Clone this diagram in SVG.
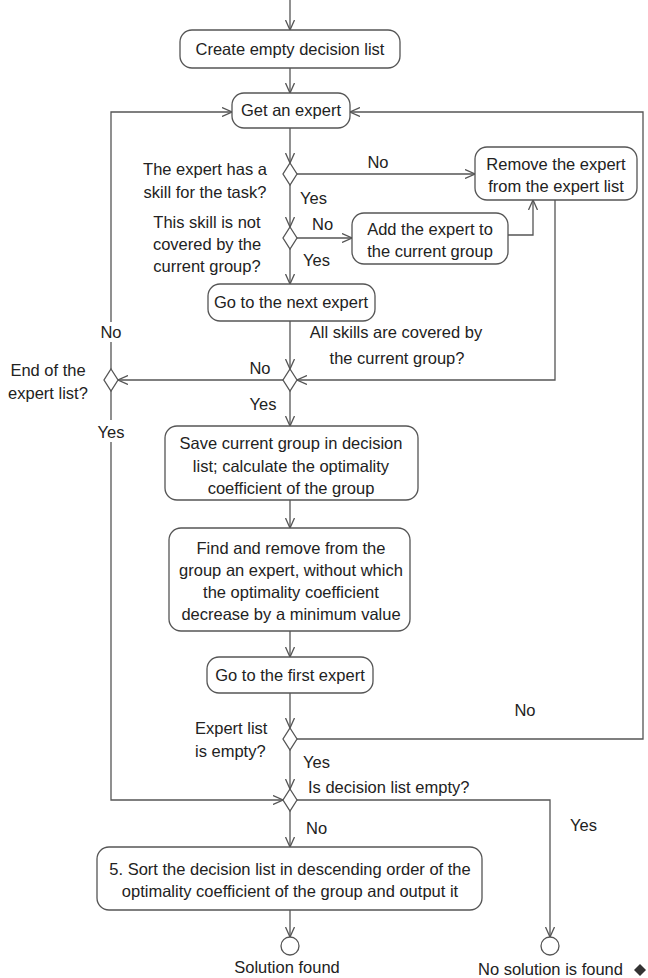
<svg xmlns="http://www.w3.org/2000/svg" width="648" height="978" viewBox="0 0 648 978">
<defs>
<style>
.box{fill:#fff;stroke:#555;stroke-width:1.3}
.dia{fill:#fff;stroke:#555;stroke-width:1.3}
.c{fill:none;stroke:#555;stroke-width:1.3}
text{font-family:"Liberation Sans",Arial,sans-serif;font-size:16.5px;fill:#222}
.m{text-anchor:middle}
.bg{fill:#fff}
</style>
<marker id="arr" viewBox="0 0 10 10" refX="10" refY="5" markerWidth="10" markerHeight="10" orient="auto" markerUnits="userSpaceOnUse">
<path d="M0,0.5 L10,5 L0,9.5" fill="none" stroke="#555" stroke-width="1.3"/>
</marker>
</defs>
<rect width="648" height="978" fill="#fff"/>
<g id="connectors">
<path class="c" d="M290,0 V30" marker-end="url(#arr)"/>
<path class="c" d="M290,68 V93" marker-end="url(#arr)"/>
<path class="c" d="M290,128 V163" marker-end="url(#arr)"/>
<path class="c" d="M297,174 H475" marker-end="url(#arr)"/>
<path class="c" d="M290,185 V227" marker-end="url(#arr)"/>
<path class="c" d="M297,238 H352" marker-end="url(#arr)"/>
<path class="c" d="M508,235 H533 V200" marker-end="url(#arr)"/>
<path class="c" d="M290,249 V284" marker-end="url(#arr)"/>
<path class="c" d="M555,200 V380 H297" marker-end="url(#arr)"/>
<path class="c" d="M290,321 V369" marker-end="url(#arr)"/>
<path class="c" d="M283,380 H118" marker-end="url(#arr)"/>
<path class="c" d="M111,369 V112 H232" marker-end="url(#arr)"/>
<path class="c" d="M290,391 V426" marker-end="url(#arr)"/>
<path class="c" d="M111,391 V800 H283" marker-end="url(#arr)"/>
<path class="c" d="M290,500 V528" marker-end="url(#arr)"/>
<path class="c" d="M290,631 V657" marker-end="url(#arr)"/>
<path class="c" d="M290,693 V728" marker-end="url(#arr)"/>
<path class="c" d="M297,739 H643 V112 H350" marker-end="url(#arr)"/>
<path class="c" d="M290,750 V789" marker-end="url(#arr)"/>
<path class="c" d="M297,800 H550 V937" marker-end="url(#arr)"/>
<path class="c" d="M290,811 V847" marker-end="url(#arr)"/>
<path class="c" d="M290,910 V937" marker-end="url(#arr)"/>
</g>
<g id="create">
<rect class="box" x="180" y="30" width="220" height="38" rx="12"/>
<text class="m" x="290" y="55">Create empty decision list</text>
</g>
<g id="get">
<rect class="box" x="232" y="93" width="118" height="35" rx="12"/>
<text class="m" x="291" y="116">Get an expert</text>
</g>
<g id="d1">
<polygon class="dia" points="290,163 297,174 290,185 283,174"/>
<text class="m" x="205" y="175">The expert has a</text>
<text class="m" x="205" y="198">skill for the task?</text>
<text class="m" x="378" y="168">No</text>
<text x="300" y="204">Yes</text>
</g>
<g id="remove">
<rect class="box" x="475" y="147" width="162" height="53" rx="12"/>
<text class="m" x="556" y="170">Remove the expert</text>
<text class="m" x="556" y="192">from the expert list</text>
</g>
<g id="d2">
<polygon class="dia" points="290,227 297,238 290,249 283,238"/>
<text class="m" x="207" y="228">This skill is not</text>
<text class="m" x="207" y="250">covered by the</text>
<text class="m" x="207" y="272">current group?</text>
<text x="312" y="230">No</text>
<text x="303" y="266">Yes</text>
</g>
<g id="add">
<rect class="box" x="352" y="213" width="156" height="51" rx="12"/>
<text class="m" x="430" y="235">Add the expert to</text>
<text class="m" x="430" y="257">the current group</text>
</g>
<g id="next">
<rect class="box" x="208" y="284" width="167" height="37" rx="12"/>
<text class="m" x="291" y="308">Go to the next expert</text>
</g>
<g id="d3">
<polygon class="dia" points="290,369 297,380 290,391 283,380"/>
<text class="m" x="396" y="338">All skills are covered by</text>
<text class="m" x="397" y="364">the current group?</text>
<text class="m" x="260" y="374">No</text>
<text class="m" x="263" y="410">Yes</text>
</g>
<g id="d4">
<polygon class="dia" points="111,369 118,380 111,391 104,380"/>
<text class="m" x="48" y="376">End of the</text>
<text class="m" x="48" y="399">expert list?</text>
<rect class="bg" x="98" y="322" width="26" height="20"/>
<text class="m" x="111" y="338">No</text>
<rect class="bg" x="96" y="420" width="30" height="22"/>
<text class="m" x="111" y="438">Yes</text>
</g>
<g id="save">
<rect class="box" x="165" y="426" width="253" height="74" rx="12"/>
<text class="m" x="291" y="449">Save current group in decision</text>
<text class="m" x="291" y="472">list; calculate the optimality</text>
<text class="m" x="291" y="494">coefficient of the group</text>
</g>
<g id="find">
<rect class="box" x="169" y="528" width="241" height="103" rx="12"/>
<text class="m" x="291" y="554">Find and remove from the</text>
<text class="m" x="291" y="576">group an expert, without which</text>
<text class="m" x="291" y="598">the optimality coefficient</text>
<text class="m" x="291" y="620">decrease by a minimum value</text>
</g>
<g id="first">
<rect class="box" x="207" y="657" width="166" height="36" rx="12"/>
<text class="m" x="290" y="681">Go to the first expert</text>
</g>
<g id="d5">
<polygon class="dia" points="290,728 297,739 290,750 283,739"/>
<text x="195" y="734">Expert list</text>
<text x="195" y="757">is empty?</text>
<text class="m" x="525" y="716">No</text>
<text x="303" y="768">Yes</text>
</g>
<g id="d6">
<polygon class="dia" points="290,789 297,800 290,811 283,800"/>
<text x="308" y="793">Is decision list empty?</text>
<text x="306" y="834">No</text>
<text x="570" y="831">Yes</text>
</g>
<g id="sort">
<rect class="box" x="97" y="847" width="385" height="63" rx="12"/>
<text class="m" x="290" y="875">5. Sort the decision list in descending order of the</text>
<text class="m" x="290" y="897">optimality coefficient of the group and output it</text>
</g>
<g id="end1">
<circle class="box" cx="290" cy="946" r="9"/>
<text class="m" x="287" y="973">Solution found</text>
</g>
<g id="end2">
<circle class="box" cx="550" cy="946" r="9"/>
<text x="478" y="975">No solution is found</text>
<polygon points="640,964 646,970 640,976 634,970" fill="#333"/>
</g>
</svg>
